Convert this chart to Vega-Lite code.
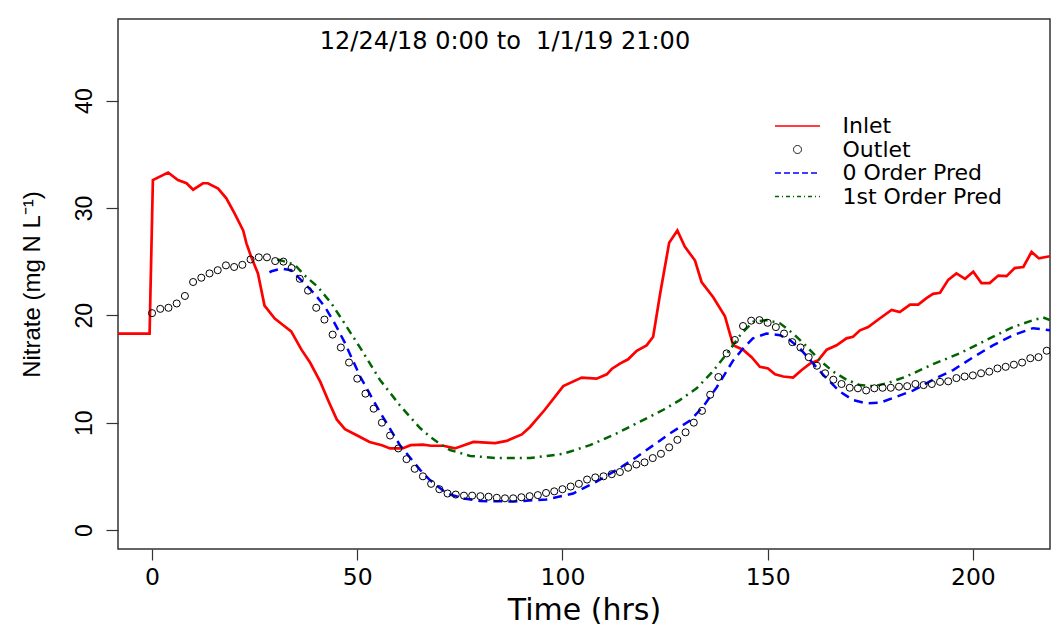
{
  "$schema": "https://vega.github.io/schema/vega-lite/v6.json",
  "autosize": "none",
  "width": 932,
  "height": 530,
  "padding": {"left": 118, "top": 19, "right": 1, "bottom": 78},
  "background": "white",
  "config": {
    "view": {"stroke": "#333333", "strokeWidth": 1.5},
    "axis": {"grid": false, "domain": false, "tickColor": "#333333", "tickWidth": 1.2, "labelColor": "black", "titleColor": "black", "titleFontWeight": "normal"}
  },
  "datasets": {
    "inlet": [
      {"hrs": -8.3, "nitrate": 18.3}, {"hrs": -0.6, "nitrate": 18.3}, {"hrs": -0.4, "nitrate": 22.0}, {"hrs": -0.2, "nitrate": 25.5},
      {"hrs": 0.0, "nitrate": 29.0}, {"hrs": 0.2, "nitrate": 32.6}, {"hrs": 3.9, "nitrate": 33.3}, {"hrs": 6.3, "nitrate": 32.6},
      {"hrs": 8.4, "nitrate": 32.3}, {"hrs": 10.0, "nitrate": 31.7}, {"hrs": 12.4, "nitrate": 32.3}, {"hrs": 13.6, "nitrate": 32.3},
      {"hrs": 16.1, "nitrate": 31.8}, {"hrs": 18.1, "nitrate": 30.9}, {"hrs": 20.1, "nitrate": 29.5}, {"hrs": 22.2, "nitrate": 27.9},
      {"hrs": 23.0, "nitrate": 26.7}, {"hrs": 24.2, "nitrate": 25.4}, {"hrs": 25.8, "nitrate": 23.9}, {"hrs": 27.4, "nitrate": 20.9},
      {"hrs": 29.9, "nitrate": 19.7}, {"hrs": 31.9, "nitrate": 19.1}, {"hrs": 33.9, "nitrate": 18.5}, {"hrs": 36.4, "nitrate": 16.8},
      {"hrs": 38.5, "nitrate": 15.6}, {"hrs": 41.0, "nitrate": 13.8}, {"hrs": 43.0, "nitrate": 12.0}, {"hrs": 45.0, "nitrate": 10.3},
      {"hrs": 47.0, "nitrate": 9.4}, {"hrs": 50.0, "nitrate": 8.8}, {"hrs": 53.0, "nitrate": 8.2}, {"hrs": 56.0, "nitrate": 7.9},
      {"hrs": 58.0, "nitrate": 7.6}, {"hrs": 61.0, "nitrate": 7.6}, {"hrs": 63.0, "nitrate": 7.9}, {"hrs": 66.0, "nitrate": 7.95},
      {"hrs": 68.0, "nitrate": 7.85}, {"hrs": 71.0, "nitrate": 7.85}, {"hrs": 73.8, "nitrate": 7.6}, {"hrs": 78.3, "nitrate": 8.2},
      {"hrs": 83.6, "nitrate": 8.1}, {"hrs": 86.4, "nitrate": 8.3}, {"hrs": 90.1, "nitrate": 8.9}, {"hrs": 92.1, "nitrate": 9.6},
      {"hrs": 95.7, "nitrate": 11.2}, {"hrs": 100.2, "nitrate": 13.4}, {"hrs": 104.7, "nitrate": 14.2}, {"hrs": 108.3, "nitrate": 14.1},
      {"hrs": 110.8, "nitrate": 14.5}, {"hrs": 112.0, "nitrate": 15.0}, {"hrs": 114.0, "nitrate": 15.5}, {"hrs": 116.0, "nitrate": 15.9},
      {"hrs": 118.1, "nitrate": 16.7}, {"hrs": 120.5, "nitrate": 17.2}, {"hrs": 122.1, "nitrate": 18.0}, {"hrs": 123.8, "nitrate": 22.0},
      {"hrs": 126.0, "nitrate": 26.75}, {"hrs": 128.0, "nitrate": 27.9}, {"hrs": 129.8, "nitrate": 26.4}, {"hrs": 132.3, "nitrate": 25.1},
      {"hrs": 133.9, "nitrate": 23.1}, {"hrs": 136.7, "nitrate": 21.7}, {"hrs": 139.6, "nitrate": 19.9}, {"hrs": 141.6, "nitrate": 17.2},
      {"hrs": 144.0, "nitrate": 16.8}, {"hrs": 146.1, "nitrate": 16.1}, {"hrs": 148.1, "nitrate": 15.2}, {"hrs": 150.1, "nitrate": 15.05},
      {"hrs": 151.8, "nitrate": 14.5}, {"hrs": 153.8, "nitrate": 14.3}, {"hrs": 156.2, "nitrate": 14.2}, {"hrs": 158.3, "nitrate": 14.9},
      {"hrs": 160.3, "nitrate": 15.5}, {"hrs": 162.3, "nitrate": 15.8}, {"hrs": 164.4, "nitrate": 16.8}, {"hrs": 166.8, "nitrate": 17.2},
      {"hrs": 169.2, "nitrate": 17.85}, {"hrs": 170.8, "nitrate": 18.0}, {"hrs": 172.5, "nitrate": 18.6}, {"hrs": 174.5, "nitrate": 18.9},
      {"hrs": 177.3, "nitrate": 19.7}, {"hrs": 180.2, "nitrate": 20.5}, {"hrs": 182.2, "nitrate": 20.3}, {"hrs": 184.7, "nitrate": 21.0},
      {"hrs": 186.7, "nitrate": 21.0}, {"hrs": 188.7, "nitrate": 21.6}, {"hrs": 190.3, "nitrate": 22.0}, {"hrs": 192.0, "nitrate": 22.1},
      {"hrs": 194.0, "nitrate": 23.3}, {"hrs": 196.0, "nitrate": 23.9}, {"hrs": 198.1, "nitrate": 23.4}, {"hrs": 200.1, "nitrate": 24.05},
      {"hrs": 202.1, "nitrate": 23.0}, {"hrs": 204.1, "nitrate": 23.0}, {"hrs": 206.2, "nitrate": 23.7}, {"hrs": 208.2, "nitrate": 23.65},
      {"hrs": 210.2, "nitrate": 24.4}, {"hrs": 212.3, "nitrate": 24.5}, {"hrs": 214.3, "nitrate": 25.9}, {"hrs": 216.1, "nitrate": 25.3},
      {"hrs": 218.8, "nitrate": 25.5}
    ],
    "outlet": [
      {"hrs": 0, "nitrate": 20.2}, {"hrs": 2, "nitrate": 20.6}, {"hrs": 4, "nitrate": 20.7}, {"hrs": 6, "nitrate": 21.1},
      {"hrs": 8, "nitrate": 21.8}, {"hrs": 10, "nitrate": 23.1}, {"hrs": 12, "nitrate": 23.5}, {"hrs": 14, "nitrate": 23.9},
      {"hrs": 16, "nitrate": 24.2}, {"hrs": 18, "nitrate": 24.65}, {"hrs": 20, "nitrate": 24.5}, {"hrs": 22, "nitrate": 24.7},
      {"hrs": 24, "nitrate": 25.2}, {"hrs": 26, "nitrate": 25.4}, {"hrs": 28, "nitrate": 25.4}, {"hrs": 30, "nitrate": 25.05},
      {"hrs": 32, "nitrate": 25.0}, {"hrs": 34, "nitrate": 24.4}, {"hrs": 36, "nitrate": 23.4}, {"hrs": 38, "nitrate": 22.3},
      {"hrs": 40, "nitrate": 20.7}, {"hrs": 42, "nitrate": 19.6}, {"hrs": 44, "nitrate": 18.2}, {"hrs": 46, "nitrate": 17.0},
      {"hrs": 48, "nitrate": 15.6}, {"hrs": 50, "nitrate": 14.1}, {"hrs": 52, "nitrate": 12.7}, {"hrs": 54, "nitrate": 11.3},
      {"hrs": 56, "nitrate": 10.0}, {"hrs": 58, "nitrate": 8.8}, {"hrs": 60, "nitrate": 7.6}, {"hrs": 62, "nitrate": 6.6},
      {"hrs": 64, "nitrate": 5.7}, {"hrs": 66, "nitrate": 5.0}, {"hrs": 68, "nitrate": 4.3}, {"hrs": 70, "nitrate": 3.8},
      {"hrs": 72, "nitrate": 3.4}, {"hrs": 74, "nitrate": 3.3}, {"hrs": 76, "nitrate": 3.2}, {"hrs": 78, "nitrate": 3.2},
      {"hrs": 80, "nitrate": 3.15}, {"hrs": 82, "nitrate": 3.1}, {"hrs": 84, "nitrate": 3.0}, {"hrs": 86, "nitrate": 2.95},
      {"hrs": 88, "nitrate": 2.95}, {"hrs": 90, "nitrate": 3.05}, {"hrs": 92, "nitrate": 3.15}, {"hrs": 94, "nitrate": 3.25},
      {"hrs": 96, "nitrate": 3.45}, {"hrs": 98, "nitrate": 3.6}, {"hrs": 100, "nitrate": 3.8}, {"hrs": 102, "nitrate": 4.05},
      {"hrs": 104, "nitrate": 4.3}, {"hrs": 106, "nitrate": 4.7}, {"hrs": 108, "nitrate": 4.9}, {"hrs": 110, "nitrate": 5.0},
      {"hrs": 112, "nitrate": 5.2}, {"hrs": 114, "nitrate": 5.4}, {"hrs": 116, "nitrate": 5.8}, {"hrs": 118, "nitrate": 6.1},
      {"hrs": 120, "nitrate": 6.3}, {"hrs": 122, "nitrate": 6.7}, {"hrs": 124, "nitrate": 7.1}, {"hrs": 126, "nitrate": 7.7},
      {"hrs": 128, "nitrate": 8.4}, {"hrs": 130, "nitrate": 9.1}, {"hrs": 132, "nitrate": 10.0}, {"hrs": 134, "nitrate": 11.1},
      {"hrs": 136, "nitrate": 12.6}, {"hrs": 138, "nitrate": 14.25}, {"hrs": 140, "nitrate": 16.45}, {"hrs": 142, "nitrate": 17.7},
      {"hrs": 144, "nitrate": 19.0}, {"hrs": 146, "nitrate": 19.5}, {"hrs": 148, "nitrate": 19.55}, {"hrs": 150, "nitrate": 19.3},
      {"hrs": 152, "nitrate": 18.9}, {"hrs": 154, "nitrate": 18.3}, {"hrs": 156, "nitrate": 17.5}, {"hrs": 158, "nitrate": 17.0},
      {"hrs": 160, "nitrate": 16.1}, {"hrs": 162, "nitrate": 15.3}, {"hrs": 164, "nitrate": 14.6}, {"hrs": 166, "nitrate": 14.0},
      {"hrs": 168, "nitrate": 13.6}, {"hrs": 170, "nitrate": 13.25}, {"hrs": 172, "nitrate": 13.2}, {"hrs": 174, "nitrate": 13.0},
      {"hrs": 176, "nitrate": 13.2}, {"hrs": 178, "nitrate": 13.25}, {"hrs": 180, "nitrate": 13.25}, {"hrs": 182, "nitrate": 13.35},
      {"hrs": 184, "nitrate": 13.4}, {"hrs": 186, "nitrate": 13.6}, {"hrs": 188, "nitrate": 13.5}, {"hrs": 190, "nitrate": 13.6},
      {"hrs": 192, "nitrate": 13.8}, {"hrs": 194, "nitrate": 13.85}, {"hrs": 196, "nitrate": 14.15}, {"hrs": 198, "nitrate": 14.3},
      {"hrs": 200, "nitrate": 14.4}, {"hrs": 202, "nitrate": 14.6}, {"hrs": 204, "nitrate": 14.75}, {"hrs": 206, "nitrate": 15.05},
      {"hrs": 208, "nitrate": 15.2}, {"hrs": 210, "nitrate": 15.4}, {"hrs": 212, "nitrate": 15.6}, {"hrs": 214, "nitrate": 16.0},
      {"hrs": 216, "nitrate": 16.1}, {"hrs": 218, "nitrate": 16.7}
    ],
    "zeroOrder": [
      {"hrs": 28.6, "nitrate": 24.0}, {"hrs": 29.1, "nitrate": 24.1}, {"hrs": 31.5, "nitrate": 24.35}, {"hrs": 33.9, "nitrate": 24.2},
      {"hrs": 37.2, "nitrate": 22.95}, {"hrs": 39.6, "nitrate": 22.0}, {"hrs": 42.1, "nitrate": 20.8}, {"hrs": 44.5, "nitrate": 19.25},
      {"hrs": 46.9, "nitrate": 17.5}, {"hrs": 50.7, "nitrate": 14.3}, {"hrs": 55.5, "nitrate": 11.0}, {"hrs": 60.4, "nitrate": 7.9},
      {"hrs": 65.3, "nitrate": 5.6}, {"hrs": 67.7, "nitrate": 4.65}, {"hrs": 71.8, "nitrate": 3.4}, {"hrs": 75.8, "nitrate": 2.95},
      {"hrs": 79.9, "nitrate": 2.7}, {"hrs": 88.0, "nitrate": 2.65}, {"hrs": 96.1, "nitrate": 2.85}, {"hrs": 102.6, "nitrate": 3.4},
      {"hrs": 108.3, "nitrate": 4.5}, {"hrs": 113.2, "nitrate": 5.6}, {"hrs": 118.1, "nitrate": 6.8}, {"hrs": 122.9, "nitrate": 8.1},
      {"hrs": 126.2, "nitrate": 9.0}, {"hrs": 131.1, "nitrate": 10.2}, {"hrs": 134.3, "nitrate": 11.5}, {"hrs": 137.6, "nitrate": 13.3},
      {"hrs": 141.6, "nitrate": 15.8}, {"hrs": 144.0, "nitrate": 16.9}, {"hrs": 146.4, "nitrate": 17.85}, {"hrs": 149.7, "nitrate": 18.3},
      {"hrs": 153.0, "nitrate": 18.15}, {"hrs": 155.4, "nitrate": 17.7}, {"hrs": 157.9, "nitrate": 16.9}, {"hrs": 161.1, "nitrate": 15.5},
      {"hrs": 164.4, "nitrate": 14.1}, {"hrs": 167.6, "nitrate": 12.9}, {"hrs": 170.8, "nitrate": 12.1}, {"hrs": 174.1, "nitrate": 11.8},
      {"hrs": 177.3, "nitrate": 11.85}, {"hrs": 180.6, "nitrate": 12.3}, {"hrs": 185.5, "nitrate": 13.0}, {"hrs": 190.3, "nitrate": 14.0},
      {"hrs": 195.2, "nitrate": 14.9}, {"hrs": 200.1, "nitrate": 16.1}, {"hrs": 204.9, "nitrate": 17.2}, {"hrs": 209.8, "nitrate": 18.15},
      {"hrs": 214.7, "nitrate": 18.8}, {"hrs": 218.8, "nitrate": 18.6}
    ],
    "firstOrder": [
      {"hrs": 30.5, "nitrate": 25.2}, {"hrs": 31.5, "nitrate": 25.1}, {"hrs": 34.8, "nitrate": 24.7}, {"hrs": 37.2, "nitrate": 23.7},
      {"hrs": 40.4, "nitrate": 22.65}, {"hrs": 43.7, "nitrate": 21.1}, {"hrs": 46.9, "nitrate": 19.25}, {"hrs": 51.0, "nitrate": 16.8},
      {"hrs": 55.5, "nitrate": 14.0}, {"hrs": 60.4, "nitrate": 11.6}, {"hrs": 65.3, "nitrate": 9.5}, {"hrs": 67.7, "nitrate": 8.7},
      {"hrs": 70.2, "nitrate": 8.0}, {"hrs": 72.6, "nitrate": 7.45}, {"hrs": 77.5, "nitrate": 6.9}, {"hrs": 84.0, "nitrate": 6.7},
      {"hrs": 92.1, "nitrate": 6.7}, {"hrs": 100.2, "nitrate": 7.1}, {"hrs": 106.7, "nitrate": 7.9}, {"hrs": 113.2, "nitrate": 9.0},
      {"hrs": 118.9, "nitrate": 10.1}, {"hrs": 124.6, "nitrate": 11.2}, {"hrs": 128.6, "nitrate": 12.1}, {"hrs": 132.7, "nitrate": 13.2},
      {"hrs": 136.7, "nitrate": 14.8}, {"hrs": 140.4, "nitrate": 16.6}, {"hrs": 143.6, "nitrate": 18.3}, {"hrs": 146.5, "nitrate": 19.4},
      {"hrs": 149.7, "nitrate": 19.55}, {"hrs": 153.0, "nitrate": 19.25}, {"hrs": 156.2, "nitrate": 18.3}, {"hrs": 159.5, "nitrate": 17.1},
      {"hrs": 162.7, "nitrate": 15.8}, {"hrs": 166.0, "nitrate": 14.75}, {"hrs": 169.2, "nitrate": 14.0}, {"hrs": 172.5, "nitrate": 13.5},
      {"hrs": 175.7, "nitrate": 13.4}, {"hrs": 179.0, "nitrate": 13.65}, {"hrs": 183.8, "nitrate": 14.3}, {"hrs": 190.3, "nitrate": 15.45},
      {"hrs": 196.8, "nitrate": 16.45}, {"hrs": 203.3, "nitrate": 17.7}, {"hrs": 209.8, "nitrate": 18.9}, {"hrs": 214.7, "nitrate": 19.55},
      {"hrs": 217.1, "nitrate": 19.8}, {"hrs": 218.8, "nitrate": 19.55}
    ],
    "period": [{"label": "12/24/18 0:00 to \u00a01/1/19 21:00", "hrs": 86, "nitrate": 45.5}]
  },
  "encoding": {
    "x": {
      "field": "hrs", "type": "quantitative",
      "scale": {"domain": [-8.3, 218.8], "nice": false, "zero": false},
      "axis": {
        "values": [0, 50, 100, 150, 200], "title": "Time (hrs)", "tickSize": 11,
        "labelFont": "DejaVu Sans", "labelFontSize": 23.5, "labelPadding": 5,
        "titleFont": "DejaVu Sans", "titleFontSize": 30, "titlePadding": 7
      }
    },
    "y": {
      "field": "nitrate", "type": "quantitative",
      "scale": {"domain": [-1.77, 47.6], "nice": false, "zero": false},
      "axis": {
        "values": [0, 10, 20, 30, 40], "title": "Nitrate (mg N L⁻¹)", "tickSize": 12,
        "labelAngle": -90, "labelFont": "Liberation Sans", "labelFontSize": 23, "labelPadding": 10,
        "titleFont": "Liberation Sans", "titleFontSize": 24, "titlePadding": 29
      }
    },
    "color": {
      "type": "nominal",
      "scale": {
        "domain": ["Inlet", "Outlet", "0 Order Pred", "1st Order Pred"],
        "range": ["#ff0000", "#000000", "#0000ff", "#006400"]
      },
      "legend": {
        "title": null, "orient": "none", "legendX": 668.5, "legendY": 96, "padding": 0,
        "symbolType": "stroke", "symbolSize": 2025, "symbolStrokeWidth": 1.3,
        "labelFont": "DejaVu Sans", "labelFontSize": 22, "labelColor": "black", "labelOffset": 34,
        "rowPadding": 1.5,
        "encode": {
          "symbols": {
            "update": {
              "shape": {"signal": "datum.label === 'Outlet' ? 'circle' : 'stroke'"},
              "size": {"signal": "datum.label === 'Outlet' ? 64 : 2025"},
              "fill": {"value": "transparent"},
              "stroke": {"signal": "scale('color', datum.value)"},
              "strokeWidth": {"signal": "datum.label === 'Outlet' ? 1 : 1.3"},
              "strokeDash": {"signal": "datum.label === '0 Order Pred' ? [6, 3] : datum.label === '1st Order Pred' ? [4, 3, 1, 3] : [1, 0]"},
              "opacity": {"value": 1}
            }
          }
        }
      }
    }
  },
  "layer": [
    {
      "data": {"name": "inlet"},
      "mark": {"type": "line", "strokeWidth": 2.7, "clip": true},
      "encoding": {"color": {"datum": "Inlet"}}
    },
    {
      "data": {"name": "zeroOrder"},
      "mark": {"type": "line", "strokeWidth": 2.5, "strokeDash": [9, 6], "clip": true},
      "encoding": {"color": {"datum": "0 Order Pred"}}
    },
    {
      "data": {"name": "firstOrder"},
      "mark": {"type": "line", "strokeWidth": 2.5, "strokeDash": [8, 5, 2, 5], "clip": true},
      "encoding": {"color": {"datum": "1st Order Pred"}}
    },
    {
      "data": {"name": "outlet"},
      "mark": {"type": "point", "shape": "circle", "filled": false, "size": 50, "strokeWidth": 1, "opacity": 1, "clip": true},
      "encoding": {"color": {"datum": "Outlet"}}
    },
    {
      "data": {"name": "period"},
      "mark": {"type": "text", "font": "DejaVu Sans", "fontSize": 24, "color": "black", "align": "center", "baseline": "middle"},
      "encoding": {"text": {"field": "label"}, "color": {"value": "black"}}
    }
  ]
}
